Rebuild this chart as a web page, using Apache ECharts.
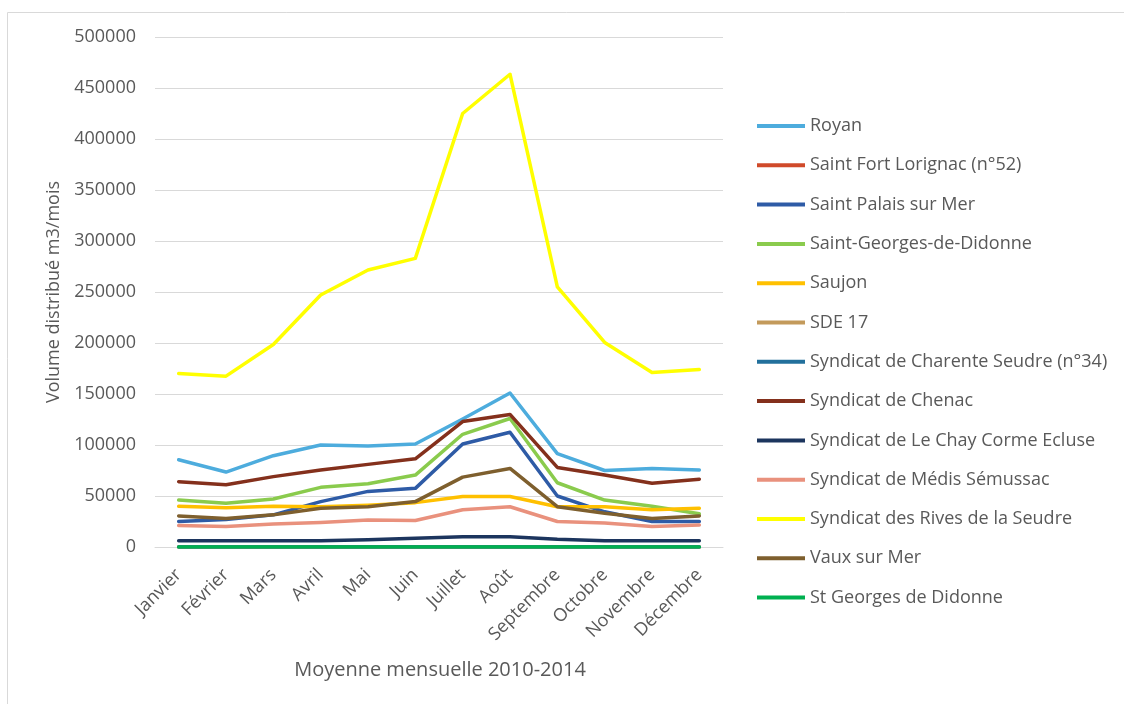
<!DOCTYPE html>
<html lang="fr">
<head>
<meta charset="utf-8">
<title>Volume distribué m3/mois</title>
<script src="https://cdn.jsdelivr.net/npm/echarts@6/dist/echarts.min.js"></script>
<style>
  html, body { margin: 0; padding: 0; background: #fff; }
  #chart { width: 1124px; height: 704px; }
</style>
</head>
<body>
<div id="chart"></div>
<script>
const months = ["Janvier", "Février", "Mars", "Avril", "Mai", "Juin", "Juillet", "Août", "Septembre", "Octobre", "Novembre", "Décembre"];

const royan = [85500, 73500, 89500, 100000, 99000, 101000, 125500, 151000, 91500, 75000, 77000, 75500];
const saintFortLorignac = [0, 0, 0, 0, 0, 0, 0, 0, 0, 0, 0, 0];
const saintPalais = [25000, 27000, 31500, 44500, 54500, 57500, 101000, 112500, 50000, 34500, 25000, 25000];
const saintGeorgesDidonne = [46000, 43000, 47000, 58500, 62000, 70500, 110500, 126000, 63000, 46000, 40000, 32500];
const saujon = [40000, 38500, 40000, 39500, 41000, 43500, 49500, 49500, 39500, 39500, 36500, 38000];
const sde17 = [0, 0, 0, 0, 0, 0, 0, 0, 0, 0, 0, 0];
const charenteSeudre = [0, 0, 0, 0, 0, 0, 0, 0, 0, 0, 0, 0];
const chenac = [64000, 61000, 69000, 75500, 81000, 86500, 123000, 130000, 78000, 70500, 62500, 66500];
const leChay = [6200, 6200, 6200, 6200, 7000, 8500, 10000, 10000, 7500, 6200, 6200, 6200];
const medis = [21000, 20000, 22500, 24000, 26500, 26000, 36500, 39500, 25000, 23500, 20000, 21500];
const rivesSeudre = [170000, 167500, 198500, 247000, 271500, 283000, 425000, 463500, 255000, 200500, 171000, 174000];
const vauxSurMer = [30500, 28000, 31500, 38000, 39500, 44500, 68500, 77000, 39500, 33000, 28000, 30500];
const stGeorgesDidonne = [0, 0, 0, 0, 0, 0, 0, 0, 0, 0, 0, 0];

const yTicks = [0, 50000, 100000, 150000, 200000, 250000, 300000, 350000, 400000, 450000, 500000];

const FONT = "'Open Sans', 'Noto Sans', sans-serif";
const TEXT = "#595959";

const line = (name, data, color) => ({
  name,
  type: "line",
  data,
  symbol: "none",
  lineStyle: { color, width: 3.5, cap: "round", join: "round" },
  itemStyle: { color },
});

const getOption = () => ({
  animation: false,
  textStyle: { fontFamily: FONT },

  graphic: [
    {
      type: "rect",
      shape: { x: 7.5, y: 12.5, width: 1300, height: 900 },
      style: { fill: "none", stroke: "#d9d9d9", lineWidth: 1 },
      silent: true,
    },
    {
      type: "text",
      x: 440,
      y: 670,
      style: {
        text: "Moyenne mensuelle 2010-2014",
        font: "20px " + FONT,
        fill: TEXT,
        align: "center",
        verticalAlign: "middle",
      },
    },
  ],

  grid: {
    left: 155,
    right: 401,
    top: 37,
    bottom: 157,
  },

  legend: {
    orient: "vertical",
    left: 752,
    top: 111,
    icon: "rect",
    itemWidth: 48,
    itemHeight: 4,
    itemGap: 19.3,
    textStyle: { color: TEXT, fontSize: 18, fontFamily: FONT, lineHeight: 20 },
  },

  xAxis: {
    type: "category",
    data: months,
    axisTick: { show: false },
    axisLine: { lineStyle: { color: "#d9d9d9" } },
    axisLabel: {
      color: TEXT,
      fontSize: 18,
      rotate: 45,
      interval: 0,
      margin: 25,
    },
  },

  yAxis: {
    type: "value",
    min: yTicks[0],
    max: yTicks[yTicks.length - 1],
    interval: 50000,
    name: "Volume distribué m3/mois",
    nameLocation: "middle",
    nameGap: 84,
    nameTextStyle: { color: TEXT, fontSize: 18 },
    axisLabel: { color: TEXT, fontSize: 18, margin: 19, formatter: (v) => String(v) },
    splitLine: { lineStyle: { color: "#d9d9d9" } },
  },

  series: [
    line("Royan", royan, "#4DACDD"),
    line("Saint Fort Lorignac (n°52)", saintFortLorignac, "#D04A2A"),
    line("Saint Palais sur Mer", saintPalais, "#2E5BA6"),
    line("Saint-Georges-de-Didonne", saintGeorgesDidonne, "#8ACB4D"),
    line("Saujon", saujon, "#FFC000"),
    line("SDE 17", sde17, "#C39A5B"),
    line("Syndicat de Charente Seudre (n°34)", charenteSeudre, "#22709C"),
    line("Syndicat de Chenac", chenac, "#84301C"),
    line("Syndicat de Le Chay Corme Ecluse", leChay, "#1C355E"),
    line("Syndicat de Médis Sémussac", medis, "#E9917D"),
    line("Syndicat des Rives de la Seudre", rivesSeudre, "#FFFF00"),
    line("Vaux sur Mer", vauxSurMer, "#7E5F2E"),
    line("St Georges de Didonne", stGeorgesDidonne, "#00B050"),
  ],
});

const chart = echarts.init(document.getElementById("chart"));
chart.setOption(getOption());
window.addEventListener("resize", () => chart.resize());
</script>
</body>
</html>
